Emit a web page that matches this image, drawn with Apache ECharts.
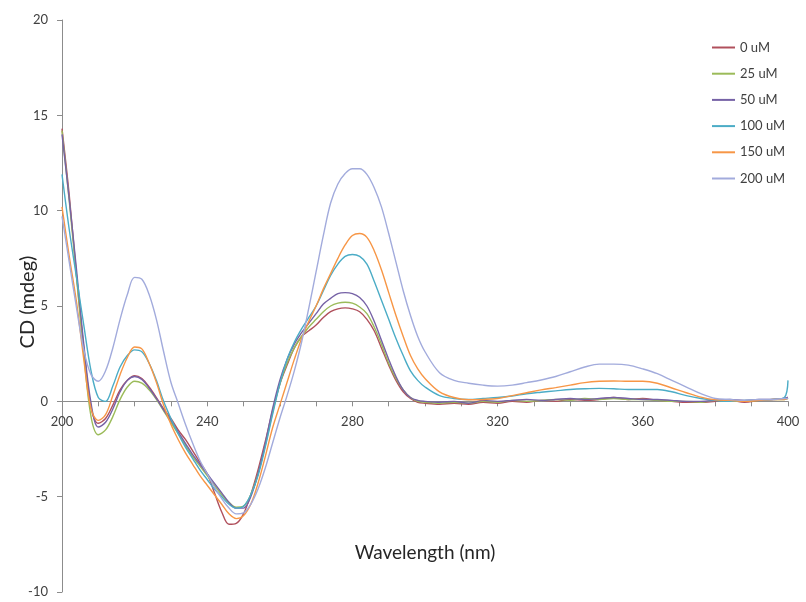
<!DOCTYPE html>
<html>
<head>
<meta charset="utf-8">
<script src="https://cdn.jsdelivr.net/npm/echarts@6/dist/echarts.min.js"></script>
<style>
html,body{margin:0;padding:0;background:#fff;}
#chart{width:806px;height:602px;}
</style>
</head>
<body>
<div id="chart"></div>
<script>
// Wavelength (nm)
const wavelengths = [200,202,204,206,208,210,212,214,216,218,220,
  222,224,226,228,230,232,234,236,238,240,
  242,244,246,248,250,252,254,256,258,260,
  262,264,266,268,270,272,274,276,278,280,
  282,284,286,288,290,292,294,296,298,300,
  304,308,312,316,320,324,328,332,336,340,344,348,
  352,356,360,364,368,372,376,380,384,388,392,396,
  399,400];

const seriesNames = ['0 uM','25 uM','50 uM','100 uM','150 uM','200 uM'];

const cd_0uM = [14.3,10.8,6.6,2.8,-0.3,-1.15,-0.9,-0.2,0.6,1.1,1.35,
  1.2,0.75,0.2,-0.4,-0.9,-1.5,-2.0,-2.6,-3.2,-3.8,
  -4.8,-5.8,-6.45,-6.4,-5.9,-4.9,-3.6,-2.1,-0.5,0.9,
  1.9,2.8,3.4,3.7,4.0,4.4,4.7,4.85,4.9,4.85,
  4.7,4.3,3.7,2.8,1.9,1.1,0.5,0.15,-0.05,-0.1,
  -0.15,-0.1,-0.15,-0.05,-0.1,0.0,-0.05,0.05,0.0,0.1,0.05,0.1,
  0.2,0.1,0.15,0.05,0.0,-0.05,-0.05,0.0,0.05,-0.05,0.05,0.1,
  0.15,0.2];

const cd_25uM = [14.2,10.5,6.5,2.5,-0.8,-1.75,-1.5,-0.8,0.1,0.75,1.05,
  0.95,0.6,0.1,-0.5,-1.1,-1.7,-2.3,-2.9,-3.4,-3.9,
  -4.4,-4.9,-5.3,-5.55,-5.5,-4.9,-3.8,-2.3,-0.6,0.9,
  2.0,2.8,3.4,3.9,4.3,4.7,5.0,5.15,5.2,5.15,
  4.95,4.6,3.9,3.0,2.0,1.2,0.6,0.2,0.0,-0.05,
  -0.1,-0.05,-0.1,0.0,-0.05,0.05,0.0,0.05,0.1,0.05,0.15,0.1,
  0.15,0.1,0.1,0.05,0.0,0.0,-0.05,0.05,0.0,0.0,0.05,0.1,
  0.1,0.15];

const cd_50uM = [14.0,10.6,6.9,3.0,-0.1,-1.35,-1.1,-0.4,0.5,1.1,1.3,
  1.15,0.7,0.15,-0.45,-1.0,-1.6,-2.2,-2.8,-3.3,-3.8,
  -4.3,-4.8,-5.3,-5.6,-5.6,-5.0,-3.8,-2.2,-0.4,1.1,
  2.2,3.0,3.6,4.1,4.6,5.1,5.4,5.65,5.7,5.65,
  5.45,5.0,4.2,3.2,2.2,1.3,0.6,0.2,0.05,0.0,
  -0.05,0.0,-0.1,0.05,0.0,0.05,0.1,0.05,0.1,0.15,0.1,0.15,
  0.2,0.15,0.1,0.1,0.05,0.0,0.0,0.05,0.1,0.05,0.1,0.1,
  0.15,0.2];

const cd_100uM = [11.9,9.0,6.5,4.0,1.6,0.2,0.0,0.8,1.8,2.4,2.7,
  2.6,2.0,1.1,0.0,-0.9,-1.7,-2.4,-3.0,-3.6,-4.1,
  -4.6,-5.0,-5.4,-5.6,-5.5,-4.9,-3.9,-2.4,-0.7,0.9,
  2.2,3.1,3.8,4.4,5.0,5.8,6.6,7.2,7.6,7.7,
  7.6,7.2,6.3,5.3,4.3,3.3,2.4,1.6,1.1,0.75,
  0.3,0.15,0.1,0.15,0.2,0.28,0.4,0.48,0.55,0.62,0.66,0.68,
  0.66,0.62,0.62,0.62,0.5,0.3,0.15,0.05,0.0,0.05,0.05,0.1,
  0.2,1.1];

const cd_150uM = [10.2,7.6,5.2,2.2,-0.4,-1.0,-0.7,0.3,1.4,2.3,2.85,
  2.75,2.0,1.0,-0.2,-1.2,-2.0,-2.7,-3.3,-3.9,-4.4,
  -4.9,-5.4,-5.9,-6.15,-6.0,-5.4,-4.3,-2.9,-1.4,-0.2,
  1.0,2.2,3.3,4.2,5.0,5.9,6.7,7.5,8.2,8.7,
  8.8,8.6,7.9,6.9,5.7,4.5,3.4,2.4,1.7,1.2,
  0.5,0.2,0.08,0.1,0.15,0.3,0.45,0.6,0.72,0.85,0.98,1.05,
  1.07,1.05,1.05,0.95,0.7,0.45,0.22,0.08,0.05,0.0,0.05,0.1,
  0.1,0.15];

const cd_200uM = [9.7,7.3,4.9,2.7,1.4,1.05,1.6,2.8,4.3,5.6,6.5,
  6.4,5.6,4.3,2.6,1.0,-0.1,-1.2,-2.2,-3.1,-3.8,
  -4.5,-5.1,-5.6,-5.9,-5.85,-5.4,-4.6,-3.5,-2.2,-0.9,
  0.3,1.6,3.1,4.9,6.8,8.7,10.4,11.4,11.95,12.2,
  12.2,11.9,11.2,10.2,8.8,7.3,5.8,4.5,3.4,2.6,
  1.5,1.1,0.95,0.85,0.8,0.85,0.98,1.12,1.3,1.55,1.8,1.95,
  1.95,1.9,1.7,1.45,1.1,0.75,0.4,0.15,0.1,0.05,0.1,0.1,
  0.15,0.15];

const allValues = [cd_0uM, cd_25uM, cd_50uM, cd_100uM, cd_150uM, cd_200uM];
const colors = ['#b0505c','#9bbb59','#7662a6','#4bacc6','#f79646','#a2abdc'];

const xTickLabels = ['200','240','280','320','360','400'];
const yTickLabels = ['-10','-5','0','5','10','15','20'];

const Y_MIN = -10, Y_MAX = 20;
const GRID_TOP = 20, GRID_BOTTOM = 10, H = 602;
const plotH = H - GRID_TOP - GRID_BOTTOM;
// move the x axis (line, ticks, labels) up to the zero line
const zeroOffset = -plotH * (0 - Y_MIN) / (Y_MAX - Y_MIN);

const chart = echarts.init(document.getElementById('chart'), null, {renderer:'canvas'});
const FONT = 'Lato, "Open Sans", sans-serif';

const series = seriesNames.map((name, i) => ({
  name: name,
  type: 'line',
  data: wavelengths.map((w, k) => [w, allValues[i][k]]),
  showSymbol: false,
  symbol: 'none',
  smooth: 0.35,
  lineStyle: { width: 1.4, color: colors[i] },
  itemStyle: { color: colors[i] },
  z: 2 + i,
  animation: false
}));

chart.setOption({
  animation: false,
  backgroundColor: '#ffffff',
  color: colors,
  grid: { left: 62, right: 18, top: GRID_TOP, bottom: GRID_BOTTOM, containLabel: false, outerBoundsMode: 'none' },
  legend: {
    orient: 'vertical',
    left: 707,
    top: 36,
    itemWidth: 23,
    itemHeight: 2,
    itemGap: 13.2,
    icon: 'rect',
    data: seriesNames,
    textStyle: { fontFamily: FONT, fontSize: 13, color: '#404040' }
  },
  xAxis: {
    type: 'value',
    position: 'bottom',
    offset: zeroOffset,
    min: 200,
    max: 400,
    interval: 10,
    axisLine: { show: true, onZero: false, lineStyle: { color: '#8c8c8c', width: 1 } },
    axisTick: { show: true, inside: false, length: 5, lineStyle: { color: '#8c8c8c' } },
    splitLine: { show: false },
    axisLabel: {
      margin: 14,
      fontFamily: FONT, fontSize: 13, color: '#404040',
      formatter: function (v) { return xTickLabels.indexOf(String(v)) >= 0 ? String(v) : ''; }
    }
  },
  yAxis: {
    type: 'value',
    min: Y_MIN,
    max: Y_MAX,
    interval: 5,
    axisLine: { show: true, lineStyle: { color: '#8c8c8c', width: 1 } },
    axisTick: { show: true, inside: false, length: 5, lineStyle: { color: '#8c8c8c' } },
    splitLine: { show: false },
    axisLabel: {
      margin: 14,
      fontFamily: FONT, fontSize: 13, color: '#404040',
      formatter: function (v) { return yTickLabels.indexOf(String(v)) >= 0 ? String(v) : ''; }
    }
  },
  graphic: [
    {
      type: 'text',
      x: 425, y: 553,
      style: { text: 'Wavelength (nm)', font: '19px ' + FONT, fill: '#262626', align: 'center', verticalAlign: 'middle' }
    },
    {
      type: 'text',
      x: 28, y: 302,
      rotation: Math.PI / 2,
      style: { text: 'CD (mdeg)', font: '20px ' + FONT, fill: '#262626', align: 'center', verticalAlign: 'middle' }
    }
  ],
  series: series
});
</script>
</body>
</html>
